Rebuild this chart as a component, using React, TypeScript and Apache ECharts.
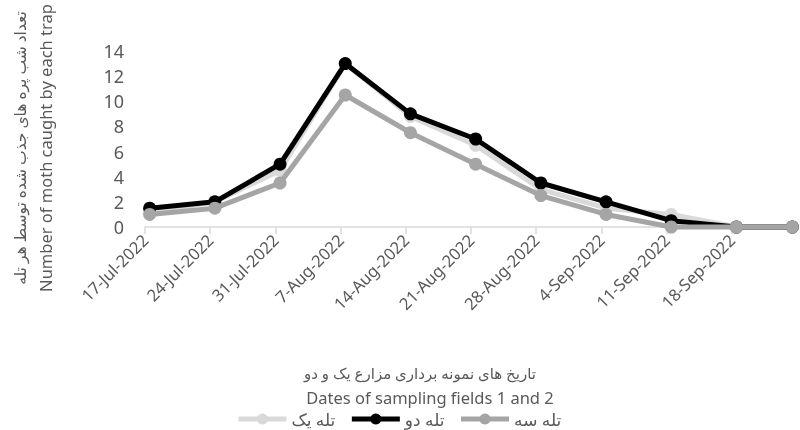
import React, { useEffect, useRef } from "react";
import * as echarts from "echarts";

const dates = [
  "2022-07-17", "2022-07-24", "2022-07-31", "2022-08-07", "2022-08-14", "2022-08-21",
  "2022-08-28", "2022-09-04", "2022-09-11", "2022-09-18", "2022-09-24",
];
const trap1 = [1.2, 2.0, 4.5, 13.0, 8.8, 6.5, 3.0, 1.5, 1.0, 0, 0];
const trap2 = [1.5, 2.0, 5.0, 13.0, 9.0, 7.0, 3.5, 2.0, 0.5, 0, 0];
const trap3 = [1.0, 1.5, 3.5, 10.5, 7.5, 5.0, 2.5, 1.0, 0, 0, 0];
const seriesNames = ["تله یک", "تله دو", "تله سه"];
const xTitleFa = "تاریخ های نمونه برداری مزارع یک و دو";
const xTitleEn = "Dates of sampling fields 1 and 2";
const yTitleFa = "تعداد شب پره های جذب شده توسط هر تله";
const yTitleEn = "Number of moth caught by each trap";
const yMax = 14;
const yStep = 2;
const tickDays = [0, 7, 14, 21, 28, 35, 42, 49, 56, 63];
const axisDays = 70;

const MONTHS = ["Jan", "Feb", "Mar", "Apr", "May", "Jun", "Jul", "Aug", "Sep", "Oct", "Nov", "Dec"];
const DAY = 86400000;
const start = Date.parse(dates[0] + "T00:00:00Z");
const dayIndex = (d: string) => (Date.parse(d + "T00:00:00Z") - start) / DAY;
const fmt = (v: number) => {
  const d = new Date(start + Math.round(v) * DAY);
  return `${d.getUTCDate()}-${MONTHS[d.getUTCMonth()]}-${d.getUTCFullYear()}`;
};

const FONT = "'Noto Sans', 'DejaVu Sans', sans-serif";
const TXT = "#595959";

export default function App() {
  const ref = useRef<HTMLDivElement>(null);
  useEffect(() => {
    if (!ref.current) return;
    const chart = echarts.init(ref.current, null, { renderer: "svg" });
    const mk = (vals: number[]) => dates.map((d, i) => [dayIndex(d) + 0.5, vals[i]]);
    const colors = ["#D9D9D9", "#000000", "#A5A5A5"];
    const all = [trap1, trap2, trap3];
    chart.setOption({
      animation: false,
      textStyle: { fontFamily: FONT },
      grid: { left: 145, right: 3, top: 51, bottom: 203 },
      xAxis: {
        type: "value",
        min: 0,
        max: axisDays,
        interval: 7,
        splitLine: { show: false },
        axisLine: { show: true, lineStyle: { color: "#D9D9D9", width: 1.5 } },
        axisTick: { show: true, length: 7, customValues: tickDays, lineStyle: { color: "#D9D9D9", width: 1.5 } },
        axisLabel: {
          customValues: tickDays,
          rotate: 45,
          formatter: (v: number) => fmt(v),
          color: TXT,
          fontSize: 16.5,
          fontFamily: FONT,
          margin: 10,
        },
      },
      yAxis: {
        type: "value",
        min: 0,
        max: yMax,
        interval: yStep,
        splitLine: { show: false },
        axisLine: { show: false },
        axisTick: { show: false },
        axisLabel: { color: TXT, fontSize: 18, fontFamily: FONT, margin: 21 },
      },
      legend: {
        bottom: 1,
        left: 236,
        padding: 0,
        itemWidth: 48,
        itemHeight: 14,
        itemGap: 14,
        data: seriesNames,
        lineStyle: { width: 5 },
        textStyle: { color: TXT, fontSize: 17, fontFamily: FONT, lineHeight: 20 },
      },
      series: all.map((vals, i) => ({
        name: seriesNames[i],
        type: "line",
        data: mk(vals),
        symbol: "circle",
        symbolSize: 13,
        clip: false,
        lineStyle: { color: colors[i], width: 5 },
        itemStyle: { color: colors[i] },
        z: 2 + i,
      })),
      graphic: [
        {
          type: "text",
          x: 420,
          y: 373,
          style: { text: xTitleFa, fill: TXT, font: `15px ${FONT}`, lineHeight: 18, align: "center", verticalAlign: "middle" },
        },
        {
          type: "text",
          x: 430,
          y: 397,
          style: { text: xTitleEn, fill: TXT, font: `16.5px ${FONT}`, lineHeight: 18, align: "center", verticalAlign: "middle" },
        },
        {
          type: "text",
          x: 20,
          y: 148,
          rotation: Math.PI / 2,
          style: { text: yTitleFa, fill: TXT, font: `15.5px ${FONT}`, lineHeight: 20, align: "center", verticalAlign: "middle" },
        },
        {
          type: "text",
          x: 45,
          y: 148,
          rotation: Math.PI / 2,
          style: { text: yTitleEn, fill: TXT, font: `16.5px ${FONT}`, lineHeight: 20, align: "center", verticalAlign: "middle" },
        },
      ],
    });
    return () => chart.dispose();
  }, []);
  return <div ref={ref} style={{ width: 800, height: 430, position: "fixed", left: 0, top: 0 }} />;
}
